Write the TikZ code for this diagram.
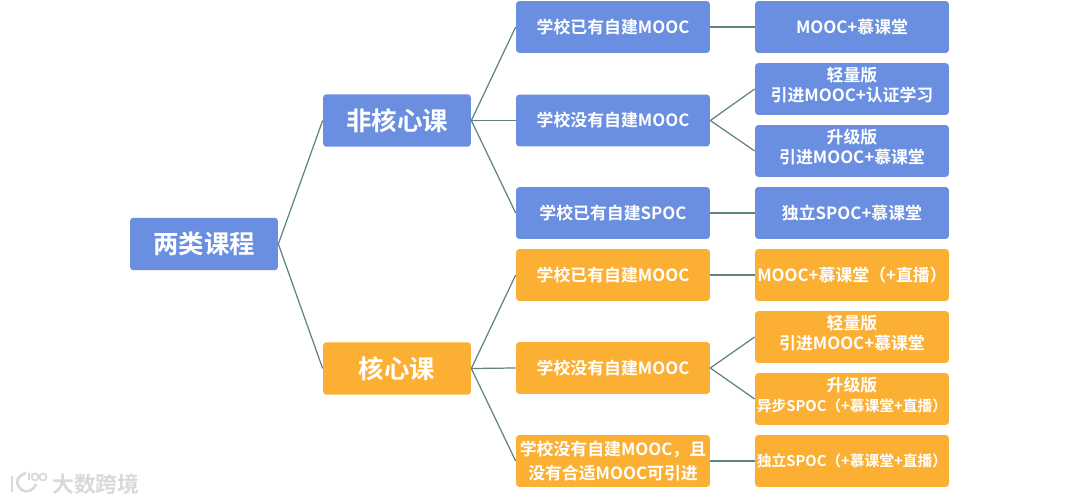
\documentclass[tikz,border=0pt]{standalone}
\usepackage{fontspec}
\setmainfont{Noto Sans CJK SC}[BoldFont={* Bold}]
\definecolor{boxblue}{HTML}{6A8FE0}
\definecolor{boxorange}{HTML}{FBB034}
\definecolor{edgegray}{HTML}{5F8282}
\definecolor{markgray}{HTML}{D9D9D9}
\newcommand{\leafgap}{\\[-6.3pt]\mbox{}}
\begin{document}
\begin{tikzpicture}[x=0.02cm, y=-0.02cm,
    boxnode/.style={rectangle, rounded corners=0.07cm, inner sep=0pt, align=center, text=white, font=\bfseries\fontsize{9.6}{11.4}\selectfont},
    topnode/.style={boxnode, minimum width=2.96cm, minimum height=1.05cm, font=\bfseries\fontsize{14.5}{16}\selectfont},
    leafnode/.style={boxnode, minimum width=3.88cm, minimum height=1.04cm},
    blue/.style={fill=boxblue},
    orange/.style={fill=boxorange},
    edge/.style={draw=edgegray, line width=0.7pt}]
    \useasboundingbox (0,0) rectangle (1080,503);

    \node[topnode, blue] (root) at (204, 244) {两类课程};
    \node[topnode, blue] (fei) at (397, 120.5) {非核心课};
    \node[topnode, orange] (he) at (397, 368.5) {核心课};

    \node[leafnode, blue] (A) at (613, 27) {学校已有自建MOOC};
    \node[leafnode, blue] (B) at (613, 120.5) {学校没有自建MOOC};
    \node[leafnode, blue] (C) at (613, 213) {学校已有自建SPOC};
    \node[leafnode, orange] (D) at (613, 275) {学校已有自建MOOC};
    \node[leafnode, orange] (E) at (613, 368) {学校没有自建MOOC};
    \node[leafnode, orange] (F) at (613, 461) {学校没有自建MOOC，且\\[2.8pt]没有合适MOOC可引进};

    \node[leafnode, blue] (A1) at (852, 27) {MOOC+慕课堂};
    \node[leafnode, blue] (B1) at (852, 89) {轻量版\\引进MOOC+认证学习\leafgap};
    \node[leafnode, blue] (B2) at (852, 151) {升级版\\引进MOOC+慕课堂\leafgap};
    \node[leafnode, blue] (C1) at (852, 213) {独立SPOC+慕课堂};
    \node[leafnode, orange] (D1) at (852, 275) {MOOC+慕课堂（+直播）};
    \node[leafnode, orange] (E1) at (852, 337) {轻量版\\引进MOOC+慕课堂\leafgap};
    \node[leafnode, orange] (E2) at (852, 399) {升级版\\{\fontsize{8.4}{10}\selectfont 异步SPOC（+慕课堂+直播）}\leafgap};
    \node[leafnode, orange, font=\bfseries\fontsize{8.4}{10}\selectfont] (F1) at (852, 461) {独立SPOC（+慕课堂+直播）};

    % connectors
    \draw[edge] (root.east) -- (fei.west);
    \draw[edge] (root.east) -- (he.west);
    \draw[edge] (fei.east) -- (A.west);
    \draw[edge] (fei.east) -- (B.west);
    \draw[edge] (fei.east) -- (C.west);
    \draw[edge] (he.east) -- (D.west);
    \draw[edge] (he.east) -- (E.west);
    \draw[edge] (he.east) -- (F.west);
    \draw[edge] (A.east) -- (A1.west);
    \draw[edge] (B.east) -- (B1.west);
    \draw[edge] (B.east) -- (B2.west);
    \draw[edge] (C.east) -- (C1.west);
    \draw[edge] (D.east) -- (D1.west);
    \draw[edge] (E.east) -- (E1.west);
    \draw[edge] (E.east) -- (E2.west);
    \draw[edge] (F.east) -- (F1.west);

    % watermark
    \draw[markgray, line width=1.5pt] (12, 476) -- (12, 492);
    \draw[markgray, line width=1.5pt] (26, 473) .. controls (15, 477) and (15, 484) .. (22, 490) .. controls (27, 493) and (33, 491) .. (36, 484);
    \draw[markgray, line width=1pt] (29, 473) -- (29, 480);
    \draw[markgray, line width=1pt] (35, 477) circle (3.5);
    \draw[markgray, line width=1pt] (43, 477) circle (3.5);
    \node[text=markgray, font=\bfseries\fontsize{12.4}{14}\selectfont, inner sep=0pt] (mark) at (96, 484) {大数跨境};
\end{tikzpicture}
\end{document}
